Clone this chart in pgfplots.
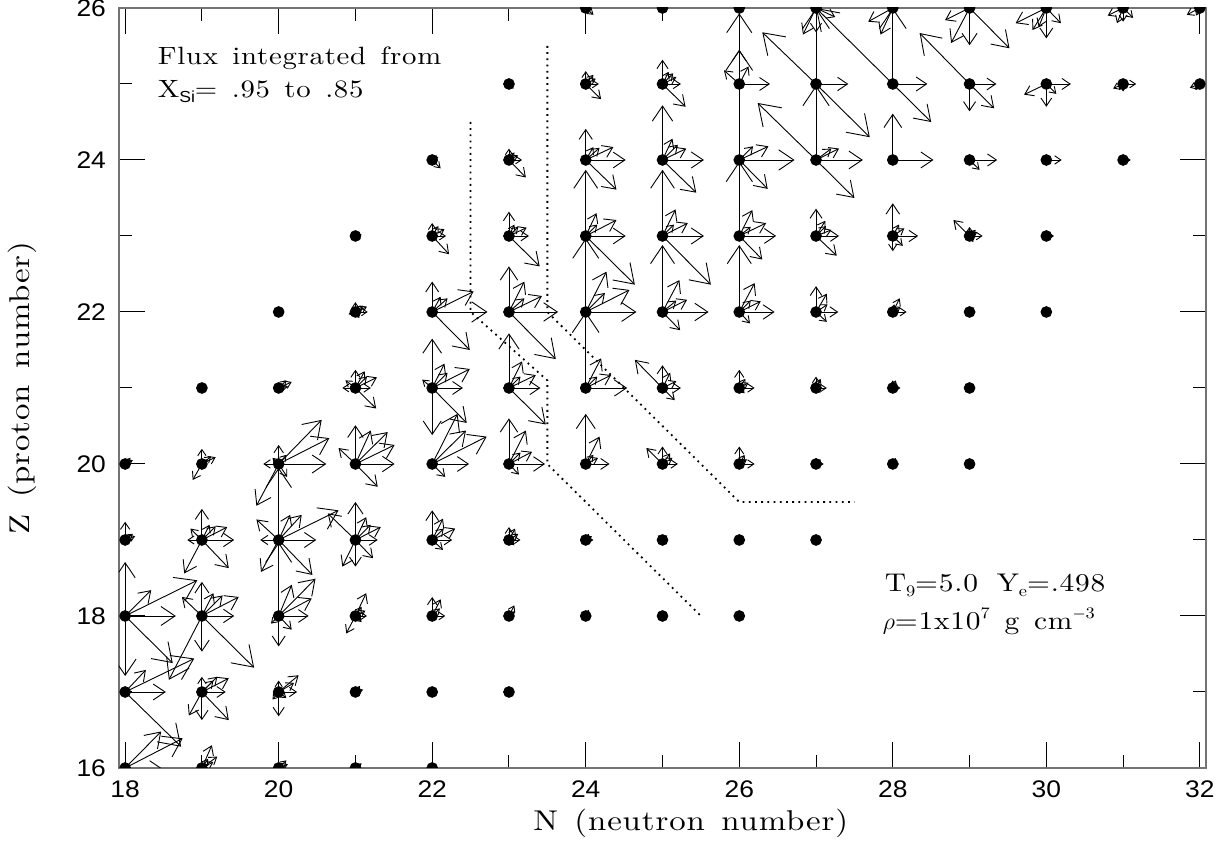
\documentclass[border=0pt]{standalone}
\usepackage{pgfplots}
\pgfplotsset{compat=1.18}
\usepackage{pgfplotstable}
\usepackage{fontspec}
\usetikzlibrary{arrows.meta,calc}
\newfontfamily\ticksf{Liberation Sans}[FakeStretch=1.1]
\newfontfamily\lab{lmroman10-regular.otf}[FakeStretch=1.15,LetterSpace=3,WordSpace=1.4]

\pgfplotstableread{
N Z u v
24 26 0.10 -0.09
25 26 0.08 0.05
27 26 -0.17 -0.35
27 26 0 -0.32
27 26 0.25 -0.12
28 26 -0.32 -0.18
28 26 -0.16 -0.35
29 26 0 -0.49
29 26 -0.24 -0.46
29 26 -0.32 -0.16
29 26 0.52 -0.53
30 26 0 -0.40
30 26 -0.40 -0.20
30 26 -0.18 -0.29
30 26 -0.10 -0.25
30 26 0.19 -0.20
31 26 0 -0.18
31 26 -0.20 -0.10
31 26 -0.08 -0.20
31 26 0.13 -0.13
32 26 -0.17 -0.09
32 26 -0.05 -0.10
23 25 0.06 -0.06
24 25 0 0.17
24 25 0.17 0
24 25 0.10 0.12
24 25 0.13 0.07
24 25 0.20 -0.20
25 25 0 0.32
25 25 0.24 0
25 25 0.14 0.14
25 25 0.18 0.09
25 25 0.08 0.16
25 25 0.30 -0.30
26 25 0 0.93
26 25 0 0.45
26 25 -0.20 0.18
26 25 0.12 0.23
26 25 0.40 0
27 25 -0.70 0.68
27 25 0.70 -0.70
27 25 0 1.0
27 25 0.42 0
28 25 -1.0 1.0
28 25 0.45 0
28 25 0.50 -0.50
28 25 0 1.0
29 25 -0.65 0.67
29 25 0.35 0
29 25 0 -0.36
29 25 0.32 -0.32
30 25 0.32 0
30 25 0 -0.30
30 25 -0.29 -0.14
30 25 0.13 -0.13
31 25 -0.13 -0.06
31 25 0.17 0
31 25 0 -0.10
31 25 -0.05 -0.08
32 25 -0.13 -0.05
32 25 -0.06 -0.08
22 24 0.08 0.04
22 24 0.11 -0.11
22 24 0.06 0.06
23 24 0 0.15
23 24 0.12 0.06
23 24 0.17 0
23 24 0.22 -0.23
23 24 0.07 0.10
24 24 0 0.41
24 24 0.10 0.17
24 24 0.18 0.16
24 24 0.36 0.17
24 24 0.52 0
24 24 0.40 -0.39
25 24 0 0.72
25 24 0.13 0.28
25 24 0.20 0.20
25 24 0.31 0.15
25 24 0.54 0
25 24 0.44 -0.43
26 24 0 1.45
26 24 0.72 0
26 24 0.38 0.18
26 24 0.18 0.18
26 24 0.37 -0.38
27 24 -0.76 0.75
27 24 0.61 0
27 24 0.30 0.15
27 24 0.20 0.15
27 24 0.50 -0.50
27 24 0 0.98
28 24 0 0.61
28 24 0.53 0
29 24 0.36 0
29 24 0.13 -0.13
30 24 0.20 0
30 24 0 -0.08
30 24 0.06 -0.05
31 24 0.10 0
31 24 0.05 -0.03
21 23 0.08 0.02
21 23 0.07 -0.04
22 23 0 0.17
22 23 0.16 0.09
22 23 0.18 0
22 23 0.22 -0.24
22 23 0.08 0.13
23 23 0 0.32
23 23 0.07 0.15
23 23 0.23 0.11
23 23 0.12 0.12
23 23 0.26 0
23 23 0.40 -0.40
24 23 0 0.87
24 23 0.14 0.30
24 23 0.15 0.15
24 23 0.40 0.21
24 23 0.52 0
24 23 0.64 -0.64
25 23 0 0.87
25 23 0.17 0.35
25 23 0.15 0.15
25 23 0.33 0.17
25 23 0.54 0
25 23 0.63 -0.64
26 23 0 0.98
26 23 0.17 0.34
26 23 0.15 0.12
26 23 0.35 0.17
26 23 0.48 0
26 23 0.30 -0.31
27 23 0 0.36
27 23 0.12 0.20
27 23 0.20 0.08
27 23 0.30 0
27 23 0.27 -0.26
27 23 0.13 0.13
28 23 0 0.43
28 23 0.33 0
28 23 0.08 0.15
28 23 0.15 0.10
28 23 0.13 -0.13
28 23 0 -0.20
29 23 -0.21 0.21
29 23 0 0.12
29 23 0.17 0
29 23 0.08 0.08
29 23 0.10 0.05
29 23 0.05 -0.08
30 23 0.10 0
20 22 0.07 0.03
21 22 0 0.13
21 22 0.16 0
21 22 0.15 0.07
21 22 0.10 0.08
21 22 -0.09 -0.03
21 22 0.05 -0.08
22 22 0 0.40
22 22 0.11 0.20
22 22 0.20 0.18
22 22 0.54 0.27
22 22 0.72 0
22 22 0.49 -0.50
23 22 0 0.60
23 22 0.20 0.40
23 22 0.20 0.18
23 22 0.43 0.21
23 22 0.64 0
23 22 0.61 -0.62
24 22 0 0.97
24 22 0.27 0.53
24 22 0.25 0.25
24 22 0.57 0.29
24 22 0.66 0
25 22 0 0.88
25 22 0.22 0.42
25 22 0.18 0.15
25 22 0.32 0.16
25 22 0.60 0
25 22 0.23 -0.24
26 22 0 0.88
26 22 0.20 0.38
26 22 0.28 0.14
26 22 0.15 0.15
26 22 0.46 0
26 22 0.14 -0.15
27 22 0 0.34
27 22 0.14 0.24
27 22 0.15 0.10
27 22 0.29 0
27 22 0.14 -0.13
28 22 0.09 0.18
28 22 0.18 0
28 22 0.10 0.07
28 22 0.02 0.10
29 22 0.06 0.06
29 22 0.08 0
29 22 -0.05 0.05
30 22 0.05 0.03
19 21 0.07 0.02
20 21 0.17 0.08
20 21 0.10 0.10
20 21 0.12 0.02
21 21 0 0.24
21 21 -0.17 0
21 21 0.20 0
21 21 -0.13 0.10
21 21 0.28 0.14
21 21 0.12 0.22
21 21 0.15 0.15
21 21 0.27 -0.27
22 21 0 0.65
22 21 0 -0.62
22 21 0.16 0.32
22 21 0.20 0.20
22 21 0.49 0.25
22 21 0.40 0
22 21 0.45 -0.46
22 21 -0.13 0.11
23 21 0 0.72
23 21 0.17 0.35
23 21 0.15 0.15
23 21 0.35 0.17
23 21 0.41 0
23 21 0.48 -0.48
24 21 0 1.0
24 21 0.20 0.39
24 21 0.15 0.15
24 21 0.33 0.17
24 21 0.54 0
25 21 -0.36 0.37
25 21 0 0.30
25 21 0.10 0.20
25 21 0.18 0.09
25 21 0.24 0
25 21 0.16 -0.16
26 21 0 0.24
26 21 0.08 0.12
26 21 0.12 0.07
26 21 0.20 0
26 21 0.07 -0.07
27 21 0 0.15
27 21 0.06 0.12
27 21 0.14 0
27 21 0.06 -0.06
28 21 0 0.10
28 21 0.04 0.10
28 21 0.10 0
29 21 -0.05 0.04
29 21 0.05 -0.03
18 20 0.10 0.05
18 20 0.07 0.08
19 20 0 0.20
19 20 0.18 0.09
19 20 0.12 0.10
19 20 -0.12 -0.21
19 20 -0.07 0
19 20 0.08 0.06
20 20 0 0.25
20 20 0.56 0.58
20 20 0.66 0.34
20 20 0.62 0
20 20 -0.29 -0.55
20 20 0.11 -0.17
20 20 -0.20 0
20 20 -0.08 0.08
20 20 0.10 0.12
21 20 0 0.51
21 20 0.20 0.44
21 20 0.42 0.42
21 20 0.51 0.25
21 20 0.51 0
21 20 0.29 -0.30
21 20 -0.22 0.21
22 20 0.33 0.66
22 20 0.44 0.44
22 20 0.71 0.36
22 20 0.48 0
22 20 0.17 -0.17
23 20 0 0.60
23 20 0.22 0.44
23 20 0.15 0.15
23 20 0.30 0.16
23 20 0.47 0
23 20 0.13 -0.14
24 20 0 0.66
24 20 0.18 0.36
24 20 0.10 0.12
24 20 0.16 0.08
24 20 0.31 0
25 20 -0.21 0.21
25 20 0 0.23
25 20 0.10 0.14
25 20 0.13 0.08
25 20 0.20 0
26 20 0 0.23
26 20 0.07 0.12
26 20 0.10 0.06
26 20 0.20 0
27 20 0 0.08
27 20 0.06 0.06
27 20 0.10 0
27 20 -0.05 0.05
28 20 0.04 0.08
28 20 0.08 0
29 20 -0.05 0.05
18 19 0 0.24
18 19 0.10 0.08
18 19 0.13 0.05
18 19 -0.05 0
19 19 0 0.41
19 19 -0.19 0
19 19 -0.15 0.15
19 19 0.18 0.18
19 19 0.33 0.17
19 19 0.42 0
19 19 -0.23 -0.44
19 19 0.35 -0.37
19 19 0.10 0.20
20 19 0 0.95
20 19 -0.29 0.27
20 19 0.15 0.33
20 19 0.30 0.33
20 19 0.78 0.39
20 19 0.49 0
20 19 -0.23 -0.42
20 19 0.44 -0.46
20 19 -0.24 0
21 19 0 0.50
21 19 0.14 0.30
21 19 0.20 0.20
21 19 0.33 0.17
21 19 0.29 0
21 19 0 -0.35
21 19 -0.17 -0.35
21 19 0.23 -0.24
21 19 -0.36 0.35
22 19 0 0.39
22 19 0.14 0.28
22 19 0.15 0.15
22 19 0.30 0.15
22 19 0.26 0
22 19 0.14 -0.13
23 19 0 0.17
23 19 0.08 0.15
23 19 0.12 0.08
23 19 0.15 0
23 19 0.07 -0.07
24 19 0.04 0.08
24 19 0.08 0.05
24 19 0.10 0
25 19 0.06 0.06
25 19 -0.06 0.06
25 19 0.05 -0.05
26 19 0.04 0.05
27 19 0.04 0.03
18 18 0 0.71
18 18 0.34 0.34
18 18 0.94 0.47
18 18 0.66 0
18 18 0.62 -0.62
18 18 0 -0.79
19 18 0 0.45
19 18 -0.26 0.25
19 18 0.15 0.30
19 18 0.27 0.27
19 18 0.48 0.25
19 18 0.42 0
19 18 0 -0.47
19 18 -0.43 -0.84
19 18 0.68 -0.68
20 18 0 0.97
20 18 0.17 0.41
20 18 0.48 0.49
20 18 0.43 0.23
20 18 0.39 0
20 18 0 -0.40
20 18 -0.10 -0.10
20 18 0.17 -0.18
21 18 0.14 0.30
21 18 0.08 0.12
21 18 0.13 0.07
21 18 0.15 0
21 18 -0.12 -0.23
21 18 0.08 -0.08
22 18 0 0.25
22 18 0.11 0.22
22 18 0.10 0.10
22 18 0.17 0
22 18 0 -0.07
23 18 0.07 0.14
23 18 0.08 0.06
24 18 0.04 0.08
24 18 0.06 0.03
18 17 0.27 0.29
18 17 0.90 0.44
18 17 0.53 0
18 17 0.73 -0.72
19 17 0 0.20
19 17 0.20 0.20
19 17 0.35 0.18
19 17 0.31 0
19 17 0 -0.37
19 17 -0.17 -0.31
19 17 0.35 -0.37
19 17 0.15 0.15
20 17 0 0.15
20 17 0.26 0.22
20 17 0.20 0.12
20 17 0.24 0
20 17 0 -0.32
20 17 -0.08 -0.10
20 17 0.10 -0.08
21 17 0.06 0.08
21 17 0.10 0.03
21 17 -0.05 -0.05
22 17 0.05 0.04
18 16 0.47 0.48
18 16 0.75 0.39
18 16 0.47 0
19 16 0.13 0.30
19 16 0.20 0.15
19 16 0.15 0.08
19 16 0.08 0.12
20 16 0.10 0.10
20 16 0.12 0.05
21 16 0.08 0.06
}\flux

\pgfplotstableread{
N Z
24 26
25 26
26 26
27 26
28 26
29 26
30 26
31 26
32 26
23 25
24 25
25 25
26 25
27 25
28 25
29 25
30 25
31 25
32 25
22 24
23 24
24 24
25 24
26 24
27 24
28 24
29 24
30 24
31 24
21 23
22 23
23 23
24 23
25 23
26 23
27 23
28 23
29 23
30 23
20 22
21 22
22 22
23 22
24 22
25 22
26 22
27 22
28 22
29 22
30 22
19 21
20 21
21 21
22 21
23 21
24 21
25 21
26 21
27 21
28 21
29 21
18 20
19 20
20 20
21 20
22 20
23 20
24 20
25 20
26 20
27 20
28 20
29 20
18 19
19 19
20 19
21 19
22 19
23 19
24 19
25 19
26 19
27 19
18 18
19 18
20 18
21 18
22 18
23 18
24 18
25 18
26 18
18 17
19 17
20 17
21 17
22 17
23 17
18 16
19 16
20 16
21 16
22 16
}\nucl

\begin{document}
\begin{tikzpicture}
\begin{axis}[
  scale only axis, width=543.5pt, height=380pt,
  xmin=17.92, xmax=32.08, ymin=16, ymax=26,
  xtick={18,20,...,32}, ytick={16,18,...,26},
  minor xtick={19,21,...,31}, minor ytick={17,19,...,25},
  xtick pos=both, ytick pos=both,
  tick align=inside,
  major tick length=13pt, minor tick length=6.5pt,
  every tick/.style={black, line width=0.5pt},
  axis line style={black!55, line width=1pt},
  tick label style={font=\ticksf\fontsize{12}{14}\selectfont},
  xticklabel style={yshift=-3pt},
  yticklabel style={xshift=-3pt},
  /pgf/number format/assume math mode=true,
  xlabel={N (neutron number)},
  ylabel={Z (proton number)},
  label style={font=\lab\fontsize{14.3}{17}\selectfont},
  xlabel style={at={(axis description cs:0.526,-0.0724)}, anchor=center},
  ylabel style={at={(axis description cs:-0.0892,0.5)}, anchor=center},
  clip marker paths=true,
]
\coordinate (SW) at (rel axis cs:0,0);
\coordinate (NE) at (rel axis cs:1,1);
\addplot[only marks, mark=*, mark size=2.7pt, black] table[x=N,y=Z] {\nucl};
\addplot[black, line width=0.45pt,
  point meta={min(sqrt((\thisrow{u})^2+(\thisrow{v})^2),1)},
  point meta min=0, point meta max=1,
  quiver={u=\thisrow{u}, v=\thisrow{v},
    every arrow/.append style={/utils/exec={\pgfmathsetmacro\hl{1.4+8.5*\pgfplotspointmetatransformed/1000}\pgfmathsetmacro\hw{1.35*\hl}}, -{Straight Barb[length=\hl pt, width=\hw pt]}}},
] table[x=N,y=Z] {\flux};
\addplot[black, line width=0.9pt, dash pattern=on 0.9pt off 2.2pt] coordinates {(22.5,24.5) (22.5,22) (23.5,21.1) (23.5,20) (25.5,18)};
\addplot[black, line width=0.9pt, dash pattern=on 0.9pt off 2.2pt] coordinates {(23.5,25.5) (23.5,22) (26,19.5) (27.5,19.5)};
\node[anchor=base west, inner sep=0, font=\lab\fontsize{12.5}{15}\selectfont] at (axis cs:18.42,25.25) {Flux integrated from};
\node[anchor=base west, inner sep=0, font=\lab\fontsize{12.5}{15}\selectfont] at (axis cs:18.42,24.816) {X\raisebox{-0.45ex}{\ticksf\fontsize{8}{9}\selectfont Si}= .95 to .85};
\node[anchor=base west, inner sep=0, font=\lab\fontsize{12.8}{15}\selectfont] at (axis cs:27.89,18.316) {T\raisebox{-0.4ex}{\fontsize{8}{9}\selectfont 9}=5.0};
\node[anchor=base west, inner sep=0, font=\lab\fontsize{12.8}{15}\selectfont] at (axis cs:29.35,18.316) {Y\raisebox{-0.4ex}{\fontsize{8}{9}\selectfont e}=.498};
\node[anchor=base west, inner sep=0, font=\lab\fontsize{12.8}{15}\selectfont] at (axis cs:27.865,17.816) {$\rho$=1x10\raisebox{1.0ex}{\fontsize{8}{9}\selectfont 7} g cm\raisebox{1.0ex}{\fontsize{8}{9}\selectfont $-$3}};
\end{axis}
\pgfresetboundingbox
\path[use as bounding box] ($(SW)+(-59.5pt,-43pt)$) rectangle ($(NE)+(11pt,4pt)$);
\end{tikzpicture}
\end{document}
